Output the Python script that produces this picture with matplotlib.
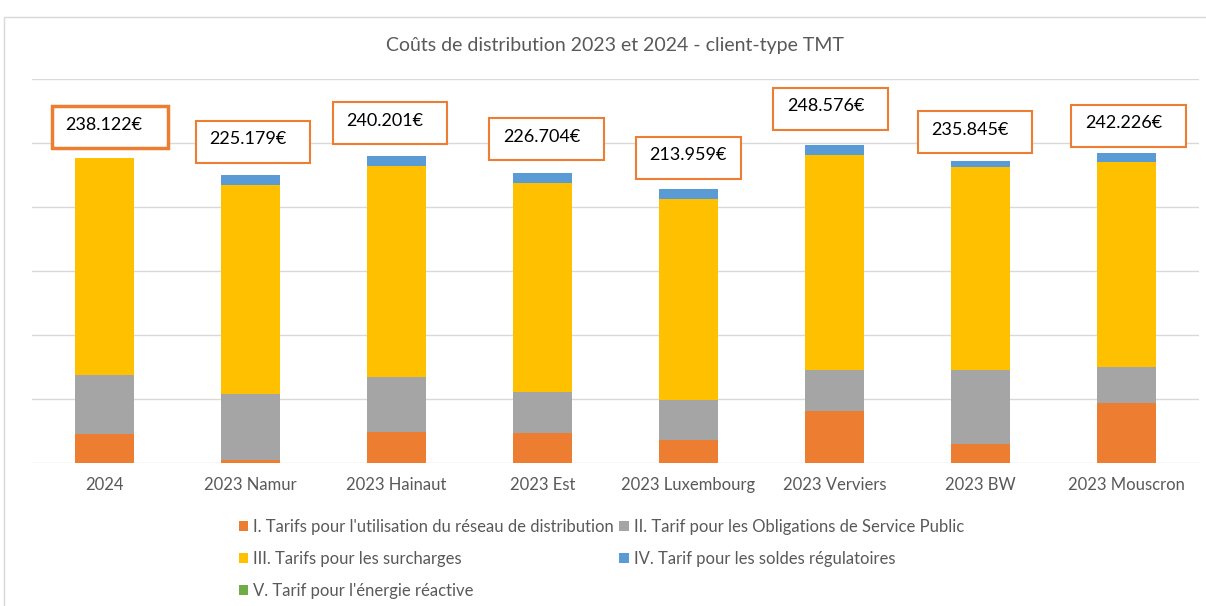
import matplotlib.pyplot as plt
from matplotlib.patches import Rectangle
import numpy as np

plt.rcParams['font.family'] = ['Lato', 'DejaVu Sans']

# ---------- DATA ----------
categories = ['2024', '2023 Namur', '2023 Hainaut', '2023 Est', '2023 Luxembourg',
              '2023 Verviers', '2023 BW', '2023 Mouscron']
tarif_reseau = [23000, 2000, 24200, 23400, 18300, 40900, 14600, 47200]
tarif_osp = [45500, 51900, 43000, 32100, 30900, 32100, 57800, 28000]
tarif_surcharges = [169622, 162979, 164601, 163004, 156799, 167376, 159145, 160326]
tarif_soldes = [0, 8300, 8400, 8200, 7960, 8200, 4300, 6700]
tarif_reactive = [0, 0, 0, 0, 0, 0, 0, 0]
totals = ['238.122€', '225.179€', '240.201€', '226.704€', '213.959€',
          '248.576€', '235.845€', '242.226€']

series_names = ["I. Tarifs pour l'utilisation du réseau de distribution",
                "II. Tarif pour les Obligations de Service Public",
                "III. Tarifs pour les surcharges",
                "IV. Tarif pour les soldes régulatoires",
                "V. Tarif pour l'énergie réactive"]

# ---------- COLORS ----------
COLORS = ['#ED7D31', '#A5A5A5', '#FFC000', '#5B9BD5', '#70AD47']
TXT = '#595959'
GRID = '#D9D9D9'

# label box layout (x offset from bar centre, box bottom in data units)
box_dx = [-0.365, -0.378, -0.439, -0.368, -0.362, -0.419, -0.429, -0.379]
box_y0 = [245900, 234600, 249200, 236500, 221900, 260200, 242000, 247100]
box_w = [0.80, 0.785, 0.787, 0.787, 0.724, 0.787, 0.787, 0.787]
box_h = 32800

fig = plt.figure(figsize=(12.06, 6.06), dpi=100)
# outer chart frame
fig.patches.append(Rectangle((4 / 1206, -0.1), 1.2, 1 - 17 / 606 + 0.1,
                             transform=fig.transFigure, fill=False,
                             edgecolor=GRID, linewidth=1))

ax = fig.add_axes([32 / 1206, 1 - 463 / 606, 1167 / 1206, 384 / 606])
x = np.arange(len(categories))
bottom = np.zeros(len(categories))
handles = []
for vals, col, name in zip([tarif_reseau, tarif_osp, tarif_surcharges, tarif_soldes, tarif_reactive],
                           COLORS, series_names):
    h = ax.bar(x, vals, width=0.405, bottom=bottom, color=col, label=name, zorder=3)
    handles.append(h)
    bottom += np.array(vals)

ax.set_xlim(-0.5, len(categories) - 0.5)
ax.set_ylim(0, 300000)
ax.set_yticks(np.arange(0, 300001, 50000))
ax.yaxis.grid(True, color=GRID, linewidth=1)
ax.set_axisbelow(True)
ax.tick_params(axis='y', left=False, labelleft=False)
ax.tick_params(axis='x', length=0, pad=10, labelsize=12, labelcolor=TXT)
ax.set_xticks(x)
ax.set_xticklabels(categories)
for s in ax.spines.values():
    s.set_visible(False)

# total label boxes
for i, lab in enumerate(totals):
    lw = 2.5 if i == 0 else 1.5
    ax.add_patch(Rectangle((x[i] + box_dx[i], box_y0[i]), box_w[i], box_h,
                           facecolor='white', edgecolor='#ED7D31', linewidth=lw,
                           zorder=5, clip_on=False))
    ax.text(x[i] + box_dx[i] + 0.096, box_y0[i] + box_h * 0.56, lab,
            ha='left', va='center', fontsize=13, color='black', zorder=6)

fig.text(615 / 1206, 1 - 45 / 606, 'Coûts de distribution 2023 et 2024 - client-type TMT',
         ha='center', va='center', fontsize=14, color=TXT)

# legend in row order: I, II / III, IV / V
order = [0, 2, 4, 1, 3]
leg = fig.legend([handles[k] for k in order], [series_names[k] for k in order],
                 ncol=2, loc='upper left', bbox_to_anchor=(232 / 1206, 1 - 512 / 606),
                 frameon=False, fontsize=12, labelcolor=TXT,
                 handlelength=0.55, handleheight=0.55, handletextpad=0.3,
                 columnspacing=0.35, labelspacing=0.98, borderaxespad=0)

fig.savefig('out.png', dpi=100)
